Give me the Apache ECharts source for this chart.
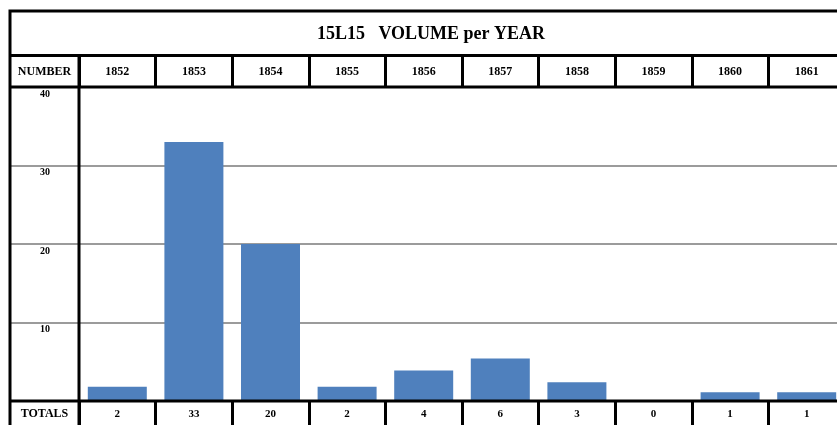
<!DOCTYPE html>
<html>
<head>
    <meta charset="utf-8">
    <title>15L15 VOLUME per YEAR</title>
    <script src="https://cdn.jsdelivr.net/npm/echarts@6/dist/echarts.min.js"></script>
    <style>
        html, body { margin: 0; padding: 0; background: #fff; }
        #chart { width: 837px; height: 425px; }
    </style>
</head>
<body>
    <div id="chart"></div>
    <script type="text/javascript">
        // data
        var years = ['1852', '1853', '1854', '1855', '1856', '1857', '1858', '1859', '1860', '1861'];
        var volumes = [1.8, 33, 20, 1.8, 3.9, 5.4, 2.4, 0, 1.1, 1.1];   // bar heights
        var totals = ['2', '33', '20', '2', '4', '6', '3', '0', '1', '1'];   // TOTALS row
        var yMin = 0, yMax = 40, yStep = 10;

        var serif = '"Liberation Serif", "DejaVu Serif", serif';
        var black = '#000';

        var myChart = echarts.init(document.getElementById('chart'));

        // the table runs past the right edge of the picture
        var plotW = 766;

        var option = {
            backgroundColor: '#fff',
            animation: false,
            title: [
                {
                    text: '15L15   VOLUME per YEAR',
                    left: 431, top: 25, textAlign: 'center', padding: 0,
                    textStyle: { fontFamily: serif, fontWeight: 'bold', fontSize: 18, color: black }
                },
                {
                    text: 'NUMBER',
                    left: 44.5, top: 66, textAlign: 'center', padding: 0,
                    textStyle: { fontFamily: serif, fontWeight: 'bold', fontSize: 12, color: black }
                },
                {
                    text: 'TOTALS',
                    left: 44.5, top: 408, textAlign: 'center', padding: 0,
                    textStyle: { fontFamily: serif, fontWeight: 'bold', fontSize: 12, color: black }
                }
            ],
            grid: [
                { left: 79, width: plotW, top: 56, height: 31, outerBoundsMode: 'none' },    // header row
                { left: 79, width: plotW, top: 87, height: 314, outerBoundsMode: 'none' },   // bars
                { left: 79, width: plotW, top: 401, height: 30, outerBoundsMode: 'none' },   // totals row
                { left: 10, width: 69, top: 87, height: 314, outerBoundsMode: 'none' }       // y labels column
            ],
            xAxis: [
                {
                    gridIndex: 0, type: 'category', data: years, position: 'bottom',
                    axisLine: { show: false }, axisTick: { show: false },
                    axisLabel: { inside: true, margin: 15, verticalAlign: 'middle', interval: 0,
                        fontFamily: serif, fontWeight: 'bold', fontSize: 12, color: black },
                    splitLine: { show: true, interval: 0, lineStyle: { color: black, width: 3 } }
                },
                {
                    gridIndex: 1, type: 'category', data: years,
                    axisLine: { show: false }, axisTick: { show: false }, axisLabel: { show: false }
                },
                {
                    gridIndex: 2, type: 'category', data: totals, position: 'top',
                    axisLine: { show: false }, axisTick: { show: false },
                    axisLabel: { inside: true, margin: 13, verticalAlign: 'middle', interval: 0,
                        fontFamily: serif, fontWeight: 'bold', fontSize: 11, color: black },
                    splitLine: { show: true, interval: 0, lineStyle: { color: black, width: 3 } }
                },
                { gridIndex: 3, type: 'value', show: false, min: 0, max: 1 }
            ],
            yAxis: [
                { gridIndex: 0, type: 'value', show: false, min: 0, max: 1 },
                {
                    gridIndex: 1, type: 'value', min: yMin, max: yMax, interval: yStep,
                    axisLine: { show: false }, axisTick: { show: false }, axisLabel: { show: false },
                    splitLine: { lineStyle: { color: '#7a7a7a', width: 1.5 } }
                },
                { gridIndex: 2, type: 'value', show: false, min: 0, max: 1 },
                {
                    gridIndex: 3, type: 'value', min: yMin, max: yMax, interval: yStep,
                    axisLine: { show: false }, axisTick: { show: false },
                    axisLabel: {
                        inside: true, margin: 35, align: 'center', verticalAlign: 'top',
                        padding: [2, 0, 0, 0],
                        fontFamily: serif, fontWeight: 'bold', fontSize: 10, color: black,
                        formatter: function (v) { return v === 0 ? '' : v; }
                    },
                    splitLine: { lineStyle: { color: '#7a7a7a', width: 1.5 } }
                }
            ],
            series: [
                {
                    name: 'Volumes',
                    type: 'bar',
                    xAxisIndex: 1, yAxisIndex: 1,
                    data: volumes,
                    barWidth: 59,
                    itemStyle: { color: '#4f80bd' }
                }
            ],
            // table frame
            graphic: [
                { type: 'rect', silent: true, z: 100,
                  shape: { x: 10, y: 11, width: 900, height: 500 },
                  style: { fill: null, stroke: black, lineWidth: 3 } },
                { type: 'line', silent: true, z: 100,
                  shape: { x1: 10, y1: 55.5, x2: 900, y2: 55.5 },
                  style: { stroke: black, lineWidth: 3 } },
                { type: 'line', silent: true, z: 100,
                  shape: { x1: 10, y1: 87, x2: 900, y2: 87 },
                  style: { stroke: black, lineWidth: 3 } },
                { type: 'line', silent: true, z: 100,
                  shape: { x1: 10, y1: 401, x2: 900, y2: 401 },
                  style: { stroke: black, lineWidth: 3 } },
                { type: 'line', silent: true, z: 100,
                  shape: { x1: 79, y1: 55, x2: 79, y2: 500 },
                  style: { stroke: black, lineWidth: 3 } }
            ]
        };

        myChart.setOption(option);
    </script>
</body>
</html>
